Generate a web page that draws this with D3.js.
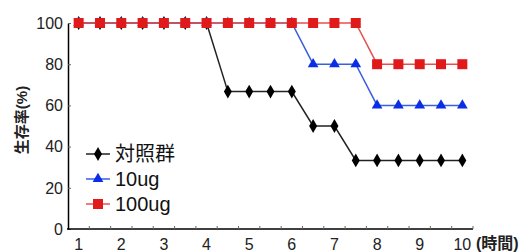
<!DOCTYPE html>
<html>
<head>
<meta charset="utf-8">
<script src="https://cdn.jsdelivr.net/npm/d3@7"></script>
<style>
  body { margin: 0; background: #fff; }
  text { font-family: "Liberation Sans", "Noto Sans CJK JP", sans-serif; }
</style>
</head>
<body>
<div id="chart"></div>
<script>
// time points (hours), every half hour
const times = [1, 1.5, 2, 2.5, 3, 3.5, 4, 4.5, 5, 5.5, 6, 6.5, 7, 7.5, 8, 8.5, 9, 9.5, 10];
// survival rate (%)
const control = [100, 100, 100, 100, 100, 100, 100, 66.7, 66.7, 66.7, 66.7, 50, 50, 33.3, 33.3, 33.3, 33.3, 33.3, 33.3];
const ug10 = [100, 100, 100, 100, 100, 100, 100, 100, 100, 100, 100, 80, 80, 80, 60, 60, 60, 60, 60];
const ug100 = [100, 100, 100, 100, 100, 100, 100, 100, 100, 100, 100, 100, 100, 100, 80, 80, 80, 80, 80];
const yTicks = [0, 20, 40, 60, 80, 100];
const xLabels = [1, 2, 3, 4, 5, 6, 7, 8, 9, 10];

const series = [
  { name: '対照群', values: control, line: '#222', fill: '#000', shape: d3.symbolDiamond, size: 55 },
  { name: '10ug', values: ug10, line: '#3a5ee0', fill: '#0a2ee6', shape: d3.symbolTriangle, size: 50 },
  { name: '100ug', values: ug100, line: '#e85050', fill: '#e01a1a', shape: d3.symbolSquare, size: 100 }
];

const width = 527, height = 252;
const svg = d3.select('#chart').append('svg')
  .attr('width', width)
  .attr('height', height);

const x = d3.scaleBand().domain(times).range([68, 473]);
const y = d3.scaleLinear().domain([0, 100]).range([229, 23]);
const cx = t => x(t) + x.bandwidth() / 2;

// y axis
const yAxis = svg.append('g')
  .attr('transform', 'translate(68,0)')
  .call(d3.axisRight(y).tickValues(yTicks).tickSize(3).tickSizeOuter(0).tickFormat(''));
yAxis.select('.domain').attr('stroke', '#000').attr('stroke-width', 1.5);
yAxis.selectAll('.tick line').attr('stroke', '#666');

svg.append('g').selectAll('text')
  .data(yTicks).enter().append('text')
  .attr('x', 63)
  .attr('y', d => y(d))
  .attr('dy', '0.36em')
  .attr('text-anchor', 'end')
  .attr('font-size', 16)
  .attr('fill', '#222')
  .text(d => d);

// x axis
svg.append('line')
  .attr('x1', 67).attr('x2', 473)
  .attr('y1', y(0)).attr('y2', y(0))
  .attr('stroke', '#000').attr('stroke-width', 1.5);

svg.append('g').selectAll('line')
  .data(times).enter().append('line')
  .attr('x1', d => x(d) + x.bandwidth())
  .attr('x2', d => x(d) + x.bandwidth())
  .attr('y1', y(0)).attr('y2', y(0) - 3)
  .attr('stroke', '#666');

svg.append('g').selectAll('text')
  .data(xLabels).enter().append('text')
  .attr('x', d => cx(d))
  .attr('y', 250)
  .attr('text-anchor', 'middle')
  .attr('font-size', 16)
  .attr('fill', '#222')
  .text(d => d);

svg.append('text')
  .attr('x', 476).attr('y', 249)
  .attr('font-size', 16)
  .attr('font-weight', 'bold')
  .attr('fill', '#222')
  .text('(時間)');

svg.append('text')
  .attr('transform', 'translate(22,120) rotate(-90)')
  .attr('text-anchor', 'middle')
  .attr('dy', '0.36em')
  .attr('font-size', 15)
  .attr('font-weight', 'bold')
  .attr('fill', '#222')
  .text('生存率(%)');

// series lines and markers
const line = d3.line().x((d, i) => cx(times[i])).y(d => y(d));

series.forEach(s => {
  svg.append('path')
    .datum(s.values)
    .attr('d', line)
    .attr('fill', 'none')
    .attr('stroke', s.line)
    .attr('stroke-width', 1.5);
  svg.append('g').selectAll('path')
    .data(s.values).enter().append('path')
    .attr('d', d3.symbol().type(s.shape).size(s.size))
    .attr('transform', (d, i) => `translate(${cx(times[i])},${y(d)})`)
    .attr('fill', s.fill);
});

// legend
const legend = svg.append('g');
series.forEach((s, i) => {
  const ly = 154 + i * 25;
  legend.append('line')
    .attr('x1', 86).attr('x2', 110)
    .attr('y1', ly).attr('y2', ly)
    .attr('stroke', s.line).attr('stroke-width', 1.5);
  legend.append('path')
    .attr('d', d3.symbol().type(s.shape).size(s.size))
    .attr('transform', `translate(98,${ly})`)
    .attr('fill', s.fill);
  legend.append('text')
    .attr('x', 115).attr('y', ly)
    .attr('dy', '0.36em')
    .attr('font-size', 20)
    .attr('fill', '#111')
    .text(s.name);
});
</script>
</body>
</html>
